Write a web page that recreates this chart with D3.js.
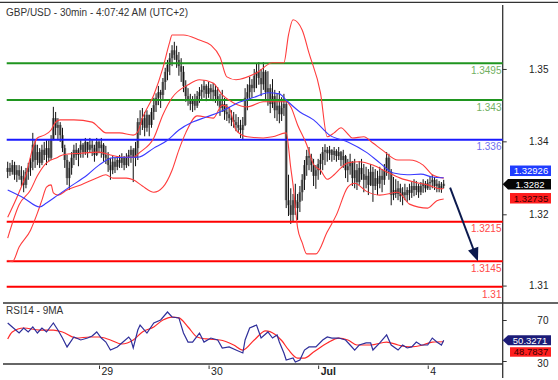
<!DOCTYPE html>
<html><head><meta charset="utf-8">
<script src="https://cdn.jsdelivr.net/npm/d3@7"></script>
<style>
body{margin:0;background:#fff}
svg{display:block}
text{font-family:"Liberation Sans",Arial,Helvetica,sans-serif}
</style>
</head><body>
<svg id="c" width="558" height="380"></svg>
<script>
// ---------- DATA ----------
const title = "GBP/USD - 30min - 4:07:42 AM (UTC+2)";
const rsiTitle = "RSI14 - 9MA";
const dayTickIdx = [40, 88, 136, 184];
const dayTickLabels = ["29", "30", "Jul", "4"];
const priceTickValues = [1.3485, 1.3357, 1.3228, 1.3102];
const rsiTickValues = [70, 30];
const levelValues = [1.3495, 1.343, 1.336, 1.3215, 1.3145, 1.31];
const levelLabels = ["1.3495", "1.343", "1.336", "1.3215", "1.3145", "1.31"];
const levelKinds = ["res", "res", "pivot", "sup", "sup", "sup"];

const open = [1.3303,
1.3310,1.3303,1.3315,1.3298,1.3306,1.3296,1.3289,1.3280,1.3303,
1.3310,1.3321,1.3351,1.3324,1.3338,1.3319,1.3342,1.3333,1.3345,1.3328,
1.3359,1.3398,1.3381,1.3386,1.3368,1.3345,1.3324,1.3292,1.3310,1.3328,
1.3342,1.3333,1.3342,1.3351,1.3338,1.3356,1.3342,1.3351,1.3345,1.3333,
1.3356,1.3345,1.3351,1.3333,1.3328,1.3315,1.3306,1.3321,1.3312,1.3324,
1.3319,1.3328,1.3315,1.3328,1.3333,1.3342,1.3328,1.3345,1.3391,1.3386,
1.3398,1.3381,1.3404,1.3386,1.3409,1.3421,1.3434,1.3444,1.3439,1.3462,
1.3480,1.3492,1.3504,1.3518,1.3510,1.3501,1.3490,1.3480,1.3455,1.3437,
1.3430,1.3423,1.3430,1.3420,1.3437,1.3444,1.3448,1.3455,1.3441,1.3451,
1.3444,1.3448,1.3437,1.3430,1.3416,1.3423,1.3409,1.3405,1.3398,1.3395,
1.3391,1.3386,1.3381,1.3377,1.3386,1.3434,1.3444,1.3457,1.3451,1.3473,
1.3480,1.3469,1.3458,1.3480,1.3444,1.3451,1.3423,1.3437,1.3412,1.3420,
1.3405,1.3416,1.3423,1.3253,1.3244,1.3227,1.3253,1.3239,1.3250,1.3267,
1.3289,1.3315,1.3331,1.3328,1.3315,1.3296,1.3306,1.3317,1.3324,1.3338,
1.3342,1.3336,1.3342,1.3333,1.3340,1.3331,1.3338,1.3324,1.3331,1.3306,
1.3313,1.3321,1.3292,1.3306,1.3285,1.3310,1.3299,1.3289,1.3296,1.3280,
1.3303,1.3278,1.3292,1.3282,1.3296,1.3289,1.3306,1.3328,1.3303,1.3262,
1.3271,1.3264,1.3274,1.3260,1.3267,1.3262,1.3271,1.3266,1.3278,1.3271,
1.3278,1.3267,1.3278,1.3282,1.3274,1.3283,1.3285,1.3289,1.3278,1.3282,
1.3274,1.3278];

const high = [1.3321,1.3319,1.3324,1.3321,1.3315,1.3315,1.3313,1.3306,1.3310,1.3319,
1.3328,1.3372,1.3359,1.3351,1.3345,1.3351,1.3356,1.3359,1.3359,1.3368,
1.3418,1.3409,1.3398,1.3391,1.3381,1.3351,1.3333,1.3321,1.3338,1.3351,
1.3354,1.3345,1.3359,1.3354,1.3363,1.3356,1.3363,1.3359,1.3351,1.3363,
1.3359,1.3363,1.3354,1.3349,1.3338,1.3328,1.3331,1.3328,1.3331,1.3333,
1.3336,1.3331,1.3336,1.3342,1.3349,1.3345,1.3356,1.3398,1.3412,1.3416,
1.3409,1.3412,1.3404,1.3416,1.3434,1.3442,1.3455,1.3448,1.3469,1.3487,
1.3501,1.3513,1.3527,1.3533,1.3526,1.3515,1.3504,1.3490,1.3465,1.3451,
1.3441,1.3437,1.3441,1.3446,1.3453,1.3458,1.3465,1.3458,1.3462,1.3458,
1.3460,1.3457,1.3453,1.3441,1.3448,1.3434,1.3423,1.3418,1.3412,1.3409,
1.3405,1.3400,1.3395,1.3400,1.3451,1.3458,1.3471,1.3467,1.3485,1.3494,
1.3497,1.3485,1.3497,1.3483,1.3481,1.3458,1.3467,1.3448,1.3441,1.3446,
1.3435,1.3441,1.3430,1.3298,1.3274,1.3264,1.3282,1.3264,1.3278,1.3299,
1.3324,1.3342,1.3347,1.3335,1.3326,1.3315,1.3326,1.3335,1.3347,1.3352,
1.3347,1.3349,1.3343,1.3347,1.3343,1.3347,1.3340,1.3342,1.3333,1.3326,
1.3335,1.3322,1.3326,1.3317,1.3322,1.3326,1.3317,1.3312,1.3308,1.3317,
1.3312,1.3308,1.3305,1.3312,1.3308,1.3317,1.3338,1.3335,1.3308,1.3294,
1.3290,1.3287,1.3282,1.3276,1.3282,1.3276,1.3282,1.3285,1.3290,1.3287,
1.3282,1.3285,1.3290,1.3287,1.3290,1.3294,1.3298,1.3294,1.3290,1.3287,
1.3285,1.3289];

const low = [1.3292,1.3296,1.3298,1.3289,1.3285,1.3289,1.3278,1.3267,1.3274,1.3289,
1.3296,1.3306,1.3310,1.3315,1.3310,1.3315,1.3324,1.3315,1.3321,1.3324,
1.3359,1.3368,1.3359,1.3356,1.3338,1.3310,1.3280,1.3271,1.3298,1.3315,
1.3324,1.3313,1.3328,1.3328,1.3333,1.3328,1.3338,1.3331,1.3321,1.3331,
1.3336,1.3328,1.3321,1.3317,1.3303,1.3289,1.3299,1.3301,1.3306,1.3310,
1.3310,1.3306,1.3310,1.3313,1.3319,1.3285,1.3313,1.3324,1.3368,1.3377,
1.3366,1.3374,1.3366,1.3381,1.3395,1.3409,1.3421,1.3416,1.3430,1.3448,
1.3465,1.3474,1.3490,1.3501,1.3487,1.3473,1.3462,1.3444,1.3427,1.3420,
1.3412,1.3409,1.3412,1.3416,1.3425,1.3430,1.3434,1.3428,1.3434,1.3430,
1.3428,1.3425,1.3420,1.3402,1.3409,1.3395,1.3393,1.3389,1.3384,1.3381,
1.3375,1.3372,1.3363,1.3361,1.3384,1.3412,1.3430,1.3434,1.3444,1.3451,
1.3457,1.3437,1.3448,1.3428,1.3420,1.3407,1.3416,1.3398,1.3393,1.3389,
1.3393,1.3402,1.3239,1.3225,1.3211,1.3214,1.3227,1.3218,1.3232,1.3252,
1.3271,1.3296,1.3306,1.3303,1.3278,1.3273,1.3289,1.3298,1.3306,1.3315,
1.3321,1.3324,1.3321,1.3324,1.3321,1.3324,1.3313,1.3310,1.3292,1.3285,
1.3298,1.3278,1.3274,1.3271,1.3280,1.3289,1.3267,1.3274,1.3262,1.3278,
1.3250,1.3271,1.3262,1.3274,1.3267,1.3280,1.3296,1.3289,1.3244,1.3253,
1.3257,1.3253,1.3250,1.3244,1.3253,1.3250,1.3253,1.3257,1.3260,1.3262,
1.3257,1.3262,1.3266,1.3267,1.3271,1.3271,1.3274,1.3271,1.3267,1.3267,
1.3266,1.3274];

const close = [1.3310,1.3303,1.3315,1.3298,1.3306,1.3296,1.3289,1.3280,1.3303,1.3310,
1.3321,1.3351,1.3324,1.3338,1.3319,1.3342,1.3333,1.3345,1.3328,1.3359,
1.3398,1.3381,1.3386,1.3368,1.3345,1.3324,1.3292,1.3310,1.3328,1.3342,
1.3333,1.3342,1.3351,1.3338,1.3356,1.3342,1.3351,1.3345,1.3333,1.3356,
1.3345,1.3351,1.3333,1.3328,1.3315,1.3306,1.3321,1.3312,1.3324,1.3319,
1.3328,1.3315,1.3328,1.3333,1.3342,1.3328,1.3345,1.3391,1.3386,1.3398,
1.3381,1.3404,1.3386,1.3409,1.3421,1.3434,1.3444,1.3439,1.3462,1.3480,
1.3492,1.3504,1.3518,1.3510,1.3501,1.3490,1.3480,1.3455,1.3437,1.3430,
1.3423,1.3430,1.3420,1.3437,1.3444,1.3448,1.3455,1.3441,1.3451,1.3444,
1.3448,1.3437,1.3430,1.3416,1.3423,1.3409,1.3405,1.3398,1.3395,1.3391,
1.3386,1.3381,1.3377,1.3386,1.3434,1.3444,1.3457,1.3451,1.3473,1.3480,
1.3469,1.3458,1.3480,1.3444,1.3451,1.3423,1.3437,1.3412,1.3420,1.3405,
1.3416,1.3423,1.3253,1.3244,1.3227,1.3253,1.3239,1.3250,1.3267,1.3289,
1.3315,1.3331,1.3328,1.3315,1.3296,1.3306,1.3317,1.3324,1.3338,1.3342,
1.3336,1.3342,1.3333,1.3340,1.3331,1.3338,1.3324,1.3331,1.3306,1.3313,
1.3321,1.3292,1.3306,1.3285,1.3310,1.3299,1.3289,1.3296,1.3280,1.3303,
1.3278,1.3292,1.3282,1.3296,1.3289,1.3306,1.3328,1.3303,1.3262,1.3271,
1.3264,1.3274,1.3260,1.3267,1.3262,1.3271,1.3266,1.3278,1.3271,1.3278,
1.3267,1.3278,1.3282,1.3274,1.3283,1.3285,1.3289,1.3278,1.3282,1.3274,
1.3278,1.3282];

// Bollinger bands (at sample bars)
const bbUpperIdx = [0,5,8,11,13,16,19,21,23,29,37,40,43,49,55,57,59,64,68,71,72,77,84,89,93,96,100,109,116,121,123,125,129,132,137,140,143,146,149,151,156,160,164,171,176,182,186,191];
const bbUpper = [1.3223,1.3267,1.3298,1.3345,1.3363,1.3368,1.3377,1.3391,1.3395,1.3395,1.3391,1.3381,1.3372,1.3372,1.3368,1.3374,1.3398,1.3439,1.3487,1.3533,1.3545,1.3545,1.3536,1.3527,1.3506,1.3471,1.3466,1.3478,1.3496,1.3496,1.3545,1.3572,1.3554,1.3513,1.3443,1.3365,1.3372,1.3381,1.3370,1.3363,1.3365,1.3354,1.3342,1.3324,1.3324,1.3315,1.3298,1.3292];
const bbLowerIdx = [0,2,5,10,13,15,17,19,20,22,26,32,39,43,46,52,55,59,64,68,72,75,78,83,90,94,97,100,105,112,116,122,124,125,127,129,131,135,140,144,149,152,157,163,171,176,184,188,191];
const bbLower = [1.3147,1.3144,1.3170,1.3200,1.3230,1.3253,1.3276,1.3280,1.3266,1.3262,1.3271,1.3280,1.3292,1.3298,1.3292,1.3292,1.3289,1.3278,1.3267,1.3276,1.3306,1.3342,1.3372,1.3402,1.3398,1.3421,1.3416,1.3377,1.3365,1.3363,1.3365,1.3372,1.3310,1.3280,1.3204,1.3178,1.3158,1.3158,1.3197,1.3227,1.3276,1.3283,1.3269,1.3262,1.3267,1.3246,1.3239,1.3252,1.3255];
const bbMidIdx = [0,5,10,13,17,22,24,32,40,45,50,55,58,64,68,72,79,84,90,94,99,105,112,118,122,124,127,131,134,137,140,143,146,149,154,160,166,172,178,184,190,191];
const bbMid = [1.3186,1.3245,1.3271,1.3296,1.3319,1.3329,1.3333,1.3336,1.3338,1.3333,1.3329,1.3329,1.3338,1.3363,1.3404,1.3434,1.3457,1.3466,1.3460,1.3439,1.3425,1.3418,1.3427,1.3427,1.3427,1.3418,1.3386,1.3351,1.3316,1.3306,1.3290,1.3298,1.3310,1.3319,1.3321,1.3315,1.3303,1.3292,1.3285,1.3280,1.3273,1.32735];
// blue moving average
const maIdx = [0,7,14,17,22,27,35,40,46,52,57,64,70,75,81,87,93,102,108,114,119,122,128,134,141,149,157,163,169,175,181,186,191];
const maVal = [1.3271,1.3257,1.3241,1.3248,1.3262,1.3276,1.3298,1.3315,1.3328,1.3329,1.3329,1.3345,1.3359,1.3377,1.3391,1.3400,1.3409,1.3427,1.3435,1.3443,1.3441,1.3430,1.3409,1.3395,1.3368,1.3356,1.3338,1.3319,1.3301,1.3298,1.3299,1.3294,1.32926];

// RSI14 and its 9MA
const rsiIdx = [0,2,5,7,9,11,13,15,17,20,22,24,26,29,32,35,37,39,41,43,45,48,50,53,54,55,57,58,61,64,67,70,72,75,77,79,81,84,86,89,92,94,97,100,103,104,106,109,111,114,116,118,119,121,122,125,126,128,130,132,135,138,140,142,145,148,150,152,154,157,159,160,163,166,168,171,173,175,177,179,181,184,186,188,190,191];
const rsiVal = [67.1,63.2,57.3,62.2,58.3,63.2,57.3,62.2,58.3,67.1,60.2,52.4,43.7,53.4,50.5,52.4,54.4,58.3,52.4,48.5,40.7,43.7,47.6,53.4,50.5,42.7,60.2,65.1,57.3,67.1,70,77.8,72.9,72,57.3,48.5,48.5,57.3,48.5,52.4,50.5,42.7,43.7,40.7,37.8,50.5,62.2,65.1,52.4,58.3,52.4,55.4,48.5,37.8,31,32.9,29,31,40.7,43.7,43.7,50.5,53.4,52.4,52.4,50.5,45.6,40.7,45.6,47.6,47.6,40.7,47.6,55.4,45.6,40.7,45.6,42.7,43.7,48.5,45.6,45.6,52.4,48.5,45.6,50.3271];
const rsiMaIdx = [0,2,7,14,20,24,30,36,40,45,50,55,59,64,68,72,75,79,83,87,93,99,103,108,113,117,120,123,127,130,134,140,145,149,153,159,166,171,176,182,186,191];
const rsiMaVal = [51.5,58.3,62.2,60.2,60.2,58.3,52.4,53.4,53.4,50.5,46.6,50.5,58.3,63.2,70,72.9,72,63.2,53.4,51.5,50.5,45.6,40.7,50.5,59.3,56.0,50.0,41.0,32.9,32.9,38.8,47.6,52.4,50.5,45.6,45.6,48.5,45.6,43.7,45.6,48.5,48.7837];

const lastPrice = 1.3282, lastMA = 1.32926, lastMid = 1.32735;
const lastRsi = 50.3271, lastRsiMa = 48.7837;
const arrowFrom = [193.8, 1.3275], arrowTo = [206, 1.3145];

// ---------- DRAWING ----------
const svg = d3.select("#c");
const AX = 502.7;
const x = d3.scaleLinear().domain([0, 191]).range([7.7, 443.7]);
const yP = d3.scaleLinear().domain([1.31, 1.3495]).range([286.7, 63.3]);
const yR = d3.scaleLinear().domain([30, 70]).range([361, 320]);

svg.append("rect").attr("width", 558).attr("height", 380).attr("fill", "#fff");

// frame lines
svg.append("line").attr("x1", 0).attr("x2", 558).attr("y1", 2.3).attr("y2", 2.3).attr("stroke", "#333").attr("stroke-width", 1.3);
svg.append("line").attr("x1", 3).attr("x2", 558).attr("y1", 303).attr("y2", 303).attr("stroke", "#333").attr("stroke-width", 1.3);
svg.append("line").attr("x1", 3).attr("x2", AX).attr("y1", 364).attr("y2", 364).attr("stroke", "#333").attr("stroke-width", 1.3);
svg.append("line").attr("x1", AX).attr("x2", AX).attr("y1", 5).attr("y2", 378).attr("stroke", "#333").attr("stroke-width", 1.3);

// titles
svg.append("text").attr("x", 6).attr("y", 15.5).attr("font-size", 10).attr("fill", "#333").text(title);
svg.append("text").attr("x", 6).attr("y", 314).attr("font-size", 10).attr("fill", "#333").text(rsiTitle);

// candles
const bars = d3.range(close.length);
const cg = svg.append("g");
cg.selectAll("rect.body").data(bars).join("rect")
  .attr("x", i => x(i) - 1.4).attr("width", 2.8)
  .attr("y", i => yP(Math.max(open[i], close[i])))
  .attr("height", i => Math.max(1, Math.abs(yP(open[i]) - yP(close[i]))))
  .attr("fill", "#8c8c8c");
cg.selectAll("line.wick").data(bars).join("line")
  .attr("x1", i => x(i)).attr("x2", i => x(i))
  .attr("y1", i => yP(high[i])).attr("y2", i => yP(low[i]))
  .attr("stroke", "#111").attr("stroke-width", 1);

// level lines
const lvlColor = {res: "#1f951f", pivot: "#1a1aff", sup: "#ff0000"};
const lvlText = {res: "#72b062", pivot: "#7070ee", sup: "#ff4a4a"};
svg.selectAll("line.lvl").data(levelValues).join("line")
  .attr("x1", 6.7).attr("x2", AX)
  .attr("y1", d => yP(d)).attr("y2", d => yP(d))
  .attr("stroke", (d, i) => lvlColor[levelKinds[i]]).attr("stroke-width", 2);

// indicator lines
function pts(idx, vals) { return idx.map((d, k) => [d, vals[k]]); }
const lineP = d3.line().x(d => x(d[0])).y(d => yP(d[1])).curve(d3.curveMonotoneX);
[[bbUpperIdx, bbUpper], [bbLowerIdx, bbLower], [bbMidIdx, bbMid]].forEach(s => {
  svg.append("path").attr("d", lineP(pts(s[0], s[1]))).attr("fill", "none")
    .attr("stroke", "#ff3c3c").attr("stroke-width", 1.1);
});
svg.append("path").attr("d", lineP(pts(maIdx, maVal))).attr("fill", "none")
  .attr("stroke", "#3a3aff").attr("stroke-width", 1.1);

// level labels
svg.selectAll("text.lvl").data(levelValues).join("text")
  .attr("x", 501.5).attr("y", d => yP(d) + 10.8).attr("text-anchor", "end")
  .attr("font-size", 10).attr("fill", (d, i) => lvlText[levelKinds[i]])
  .text((d, i) => levelLabels[i]);

// projection arrow
{
  const x0 = x(arrowFrom[0]), y0 = yP(arrowFrom[1]), x1 = x(arrowTo[0]), y1 = yP(arrowTo[1]);
  const dx = x1 - x0, dy = y1 - y0, L = Math.hypot(dx, dy), ux = dx / L, uy = dy / L;
  const hl = 13.5, hw = 5.5;
  const bx = x1 - ux * hl, by = y1 - uy * hl;
  svg.append("line").attr("x1", x0).attr("y1", y0).attr("x2", bx + ux * 2).attr("y2", by + uy * 2)
    .attr("stroke", "#0c1a4e").attr("stroke-width", 2);
  svg.append("path").attr("d", `M${x1},${y1}L${bx - uy * hw},${by + ux * hw}L${bx + uy * hw},${by - ux * hw}Z`)
    .attr("fill", "#0c1a4e");
}

// price axis
const pa = svg.append("g").attr("transform", `translate(${AX},0)`)
  .call(d3.axisRight(yP).tickValues(priceTickValues).tickFormat(d3.format(".2f")).tickSize(4));
pa.select(".domain").remove();
pa.selectAll("line").attr("stroke", "#333");
pa.selectAll("text").attr("x", 45.8).attr("text-anchor", "end").attr("font-size", 10).attr("fill", "#222")
  .attr("font-family", "Liberation Sans, Arial, sans-serif");

// rsi axis
const ra = svg.append("g").attr("transform", `translate(${AX},0)`)
  .call(d3.axisRight(yR).tickValues(rsiTickValues).tickSize(4));
ra.select(".domain").remove();
ra.selectAll("line").attr("stroke", "#333");
ra.selectAll("text").attr("x", 45.8).attr("text-anchor", "end").attr("font-size", 10).attr("fill", "#222")
  .attr("font-family", "Liberation Sans, Arial, sans-serif")
  .attr("dy", d => d === 30 ? "0.55em" : "0.32em");

// x axis
const xa = svg.append("g").attr("transform", "translate(0,364)")
  .call(d3.axisBottom(x).tickValues(dayTickIdx).tickFormat((d, i) => dayTickLabels[i]).tickSize(5));
xa.select(".domain").remove();
xa.selectAll("line").attr("stroke", "#333").attr("y1", 1.5);
xa.selectAll("text").attr("x", 2).attr("y", 11).attr("dy", 0).attr("text-anchor", "start")
  .attr("font-size", 10.5).attr("fill", "#222").attr("font-family", "Liberation Sans, Arial, sans-serif")
  .attr("font-weight", (d, i) => dayTickLabels[i] === "Jul" ? "bold" : "normal");

// RSI lines
const lineR = d3.line().x(d => x(d[0])).y(d => yR(d[1]));
svg.append("path").attr("d", lineR.curve(d3.curveMonotoneX)(pts(rsiMaIdx, rsiMaVal))).attr("fill", "none")
  .attr("stroke", "#ff2a2a").attr("stroke-width", 1.2);
svg.append("path").attr("d", lineR.curve(d3.curveLinear)(pts(rsiIdx, rsiVal))).attr("fill", "none")
  .attr("stroke", "#2f2f9a").attr("stroke-width", 1.2);

// value boxes
function box(yc, fill, txt, tcol, pointer, h) {
  const x0 = pointer ? 508 : 510, x1 = 551;
  if (pointer) {
    svg.append("path").attr("d", `M${AX},${yc}L${x0},${yc - h / 2}L${x1},${yc - h / 2}L${x1},${yc + h / 2}L${x0},${yc + h / 2}Z`).attr("fill", fill);
  } else {
    svg.append("rect").attr("x", x0).attr("y", yc - h / 2).attr("width", x1 - x0).attr("height", h).attr("fill", fill);
  }
  svg.append("text").attr("x", (x0 + x1) / 2 + 0.5).attr("y", yc + 3.4).attr("text-anchor", "middle")
    .attr("font-size", 9.5).attr("fill", tcol).text(txt);
}
const yLast = yP(lastPrice);
box(yLast - 13, "#1f3cff", d3.format(".5f")(lastMA), "#fff", false, 10.5);
box(yLast + 14.5, "#ff1e1e", d3.format(".5f")(lastMid), "#3a0000", false, 10.5);
box(yLast + 0.6, "#050505", d3.format(".4f")(lastPrice), "#fff", true, 10.5);
box(yR(lastRsi), "#1c1c78", d3.format(".4f")(lastRsi), "#fff", true, 10);
box(yR(lastRsi) + 11.8, "#ff1e1e", d3.format(".4f")(lastRsiMa), "#3a0000", false, 9.5);
</script>
</body></html>
